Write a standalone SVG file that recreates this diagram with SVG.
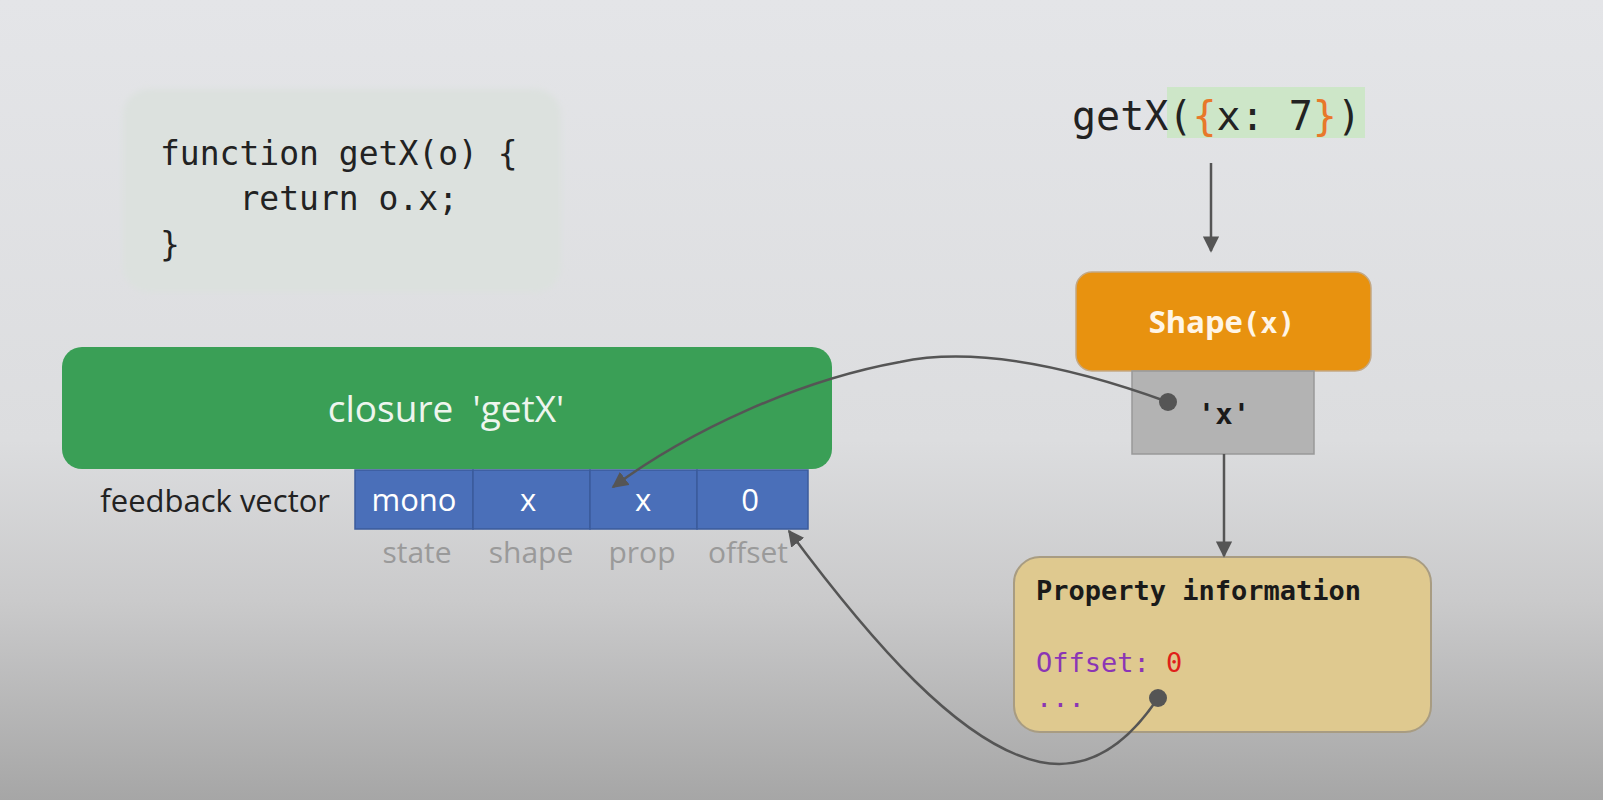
<svg xmlns="http://www.w3.org/2000/svg" width="1603" height="800" viewBox="0 0 1603 800">
  <defs>
    <linearGradient id="bg" x1="0" y1="0" x2="0" y2="1">
      <stop offset="0" stop-color="#e4e5e8"/>
      <stop offset="0.55" stop-color="#dcdddf"/>
      <stop offset="0.75" stop-color="#cacacb"/>
      <stop offset="1" stop-color="#a6a6a6"/>
    </linearGradient>
    <filter id="soft" x="-10%" y="-10%" width="120%" height="120%">
      <feGaussianBlur stdDeviation="3"/>
    </filter>
    <marker id="arr" viewBox="0 0 10 10" refX="9" refY="5" markerWidth="6.5" markerHeight="6.5" orient="auto" markerUnits="strokeWidth">
      <path d="M0,0 L10,5 L0,10 z" fill="#555"/>
    </marker>
    <style>
      .sans { font-family: "Open Sans", "Noto Sans", sans-serif; }
      .mono { font-family: "DejaVu Sans Mono", "Liberation Mono", monospace; }
      .conn { fill: none; stroke: #555; stroke-width: 2.5; }
      .cell { fill: #4a6fb9; stroke: #3b5b9c; stroke-width: 1.5; }
      .celltxt { fill: #ffffff; font-size: 31px; text-anchor: middle; }
      .lbl { fill: #9a9a9a; font-size: 30px; text-anchor: middle; }
      .dot { fill: #555; }
    </style>
  </defs>

  <rect x="0" y="0" width="1603" height="800" fill="url(#bg)"/>

  <g id="code">
    <rect x="123" y="89" width="438" height="203" rx="26" fill="#dce1de" filter="url(#soft)"/>
    <text class="mono" font-size="33" fill="#222" xml:space="preserve"><tspan x="160" y="165">function getX(o) {</tspan><tspan x="160" y="210">    return o.x;</tspan><tspan x="160" y="256">}</tspan></text>
  </g>

  <g id="call">
    <rect x="1167" y="87" width="198" height="51" fill="#cde6c8"/>
    <text class="mono" x="1072" y="130" font-size="40" fill="#222" xml:space="preserve">getX(<tspan fill="#e8782a">{</tspan>x: 7<tspan fill="#e8782a">}</tspan>)</text>
  </g>

  <g id="closure">
    <rect x="62" y="347" width="770" height="122" rx="20" fill="#3a9f56"/>
    <text class="sans" x="446" y="422" font-size="37" fill="#eef5ee" text-anchor="middle" xml:space="preserve">closure  'getX'</text>
  </g>

  <g id="feedback-vector">
    <text class="sans" x="330" y="512" font-size="31" fill="#222" text-anchor="end">feedback vector</text>
    <rect class="cell" x="355" y="470" width="118" height="59"/>
    <rect class="cell" x="473" y="470" width="117" height="59"/>
    <rect class="cell" x="590" y="470" width="107" height="59"/>
    <rect class="cell" x="697" y="470" width="111" height="59"/>
    <text class="sans celltxt" x="414" y="511">mono</text>
    <text class="sans celltxt" x="528" y="511">x</text>
    <text class="sans celltxt" x="643" y="511">x</text>
    <text class="sans celltxt" x="750" y="511">0</text>
    <text class="sans lbl" x="417" y="563">state</text>
    <text class="sans lbl" x="531" y="563">shape</text>
    <text class="sans lbl" x="642" y="563">prop</text>
    <text class="sans lbl" x="748" y="563">offset</text>
  </g>

  <g id="shape">
    <rect x="1076" y="272" width="295" height="99" rx="16" fill="#e8920f" stroke="#c4a883" stroke-width="1.5"/>
    <text x="1222" y="333" font-size="31" fill="#fff5e6" text-anchor="middle"><tspan class="sans" font-weight="bold">Shape</tspan><tspan class="mono" font-weight="bold" font-size="29">(x)</tspan></text>
  </g>

  <g id="shape-key">
    <rect x="1132" y="371" width="182" height="83" fill="#b3b3b3" stroke="#999" stroke-width="1.5"/>
    <text class="mono" x="1224" y="424" font-size="29" font-weight="bold" fill="#1a1a1a" text-anchor="middle">'x'</text>
  </g>

  <g id="property-info">
    <rect x="1014" y="557" width="417" height="175" rx="26" fill="#dfc98f" stroke="#a89c82" stroke-width="2"/>
    <text class="mono" x="1036" y="600" font-size="27" font-weight="bold" fill="#1a1a1a">Property information</text>
    <text class="mono" x="1036" y="672" font-size="27" fill="#8b35b5">Offset: <tspan fill="#e0201a">0</tspan></text>
    <text class="mono" x="1036" y="707" font-size="27" fill="#8b35b5">...</text>
  </g>

  <g id="connectors">
    <line class="conn" x1="1211" y1="163" x2="1211" y2="251" marker-end="url(#arr)"/>
    <line class="conn" x1="1224" y1="454" x2="1224" y2="556" marker-end="url(#arr)"/>
    <path class="conn" d="M1168,402 C1080,370 980,345 900,362 C800,380 690,430 613,487" marker-end="url(#arr)"/>
    <path class="conn" d="M1158,698 C1120,755 1080,770 1040,762 C960,745 870,640 789,531" marker-end="url(#arr)"/>
    <circle class="dot" cx="1168" cy="402" r="9"/>
    <circle class="dot" cx="1158" cy="698" r="9"/>
  </g>
</svg>
